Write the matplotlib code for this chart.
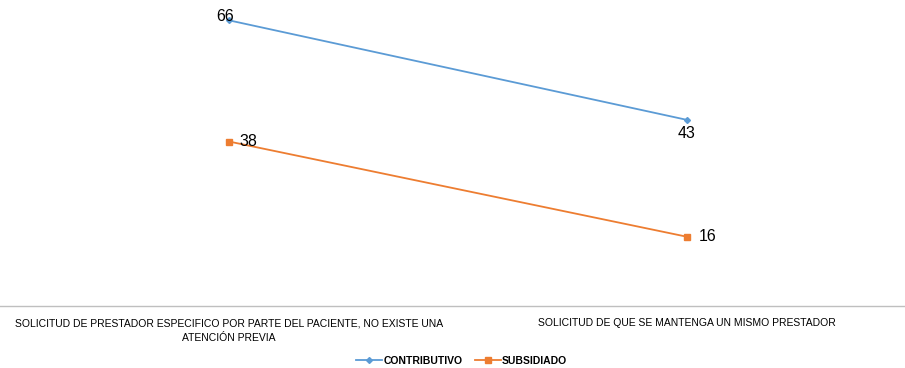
import matplotlib.pyplot as plt

# data
categories = [
    "SOLICITUD DE PRESTADOR ESPECIFICO POR PARTE DEL PACIENTE, NO EXISTE UNA\nATENCIÓN PREVIA",
    "SOLICITUD DE QUE SE MANTENGA UN MISMO PRESTADOR",
]
contributivo = [66, 43]
subsidiado = [38, 16]

plt.rcParams['font.family'] = ['Liberation Sans', 'DejaVu Sans']

BLUE = '#5B9BD5'
ORANGE = '#ED7D31'

fig = plt.figure(figsize=(9.05, 3.68), dpi=100)
ax = fig.add_axes([0.0, 1 - 306 / 368, 1.012, 303 / 368])

x = list(range(len(categories)))
ax.plot(x, contributivo, color=BLUE, lw=1.3, marker='D', ms=3, label='CONTRIBUTIVO')
ax.plot(x, subsidiado, color=ORANGE, lw=1.3, marker='s', ms=4, label='SUBSIDIADO')

# value labels
ax.annotate(str(contributivo[0]), (x[0], contributivo[0]), xytext=(-3, 3),
            textcoords='offset points', ha='center', va='center', fontsize=11.5)
ax.annotate(str(contributivo[1]), (x[1], contributivo[1]), xytext=(0, -10),
            textcoords='offset points', ha='center', va='center', fontsize=11.5)
ax.annotate(str(subsidiado[0]), (x[0], subsidiado[0]), xytext=(14, 0),
            textcoords='offset points', ha='center', va='center', fontsize=11.5)
ax.annotate(str(subsidiado[1]), (x[1], subsidiado[1]), xytext=(15, 0),
            textcoords='offset points', ha='center', va='center', fontsize=11.5)

ax.set_xlim(-0.5, 1.5)
ax.set_ylim(0, 70)
ax.set_xticks(x)
ax.set_xticklabels(categories, fontsize=7.5, linespacing=1.55)
ax.tick_params(axis='x', length=0, pad=9)
ax.set_yticks([])
for s in ['top', 'right', 'left']:
    ax.spines[s].set_visible(False)
ax.spines['bottom'].set_color('#BFBFBF')
ax.spines['bottom'].set_linewidth(1)

leg = fig.legend(loc='center', bbox_to_anchor=(0.51, 0.02), ncol=2, frameon=False,
                 prop={'weight': 'bold', 'size': 7.5}, handlelength=2.5, columnspacing=1.2,
                 handletextpad=0.1)

fig.savefig('out.png', dpi=100)
